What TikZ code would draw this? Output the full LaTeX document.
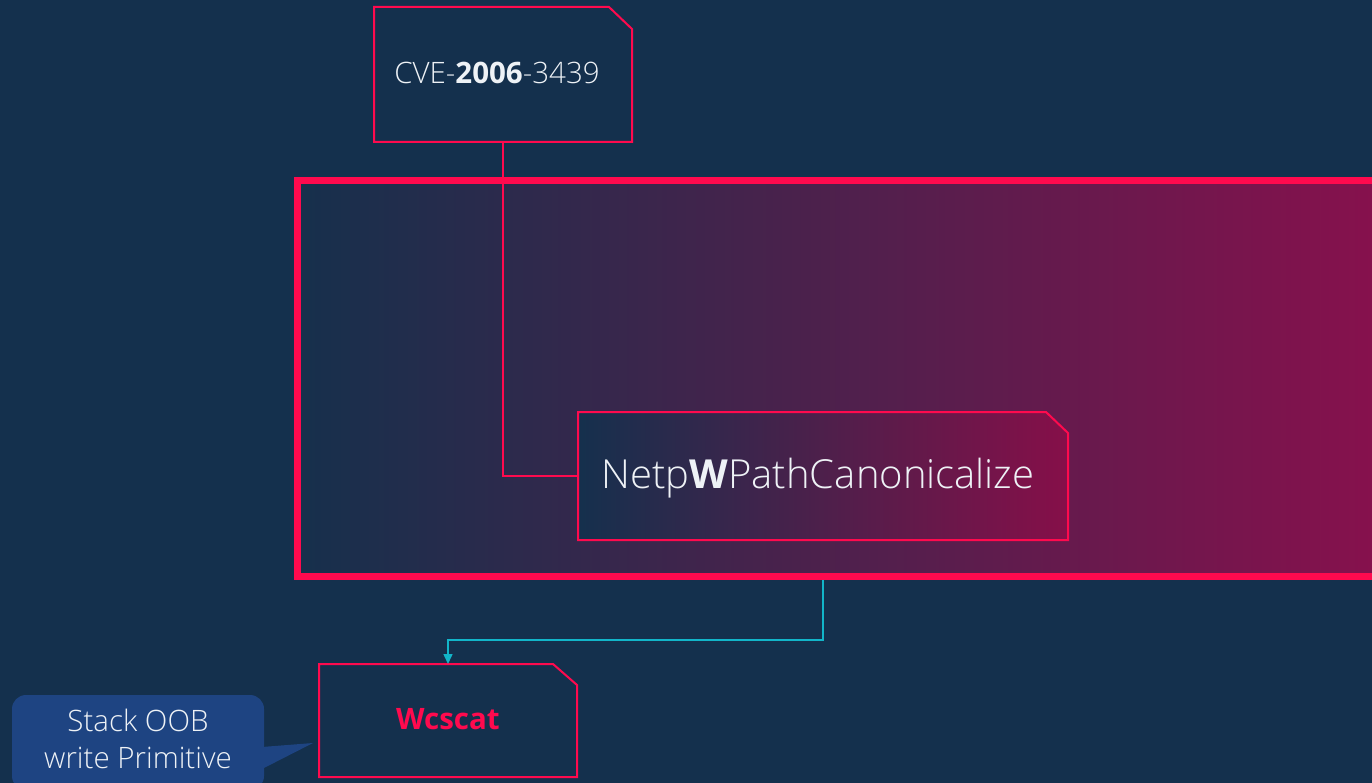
\documentclass[tikz,border=0pt]{standalone}
\usepackage{fontspec}
\setmainfont{Open Sans Light}[BoldFont={Open Sans Bold}]
\usetikzlibrary{arrows.meta}
\definecolor{bg}{HTML}{14304D}
\definecolor{accent}{HTML}{FF0A4E}
\definecolor{cyanline}{HTML}{12B5C9}
\definecolor{calloutfill}{HTML}{1E4482}
\definecolor{gradL}{HTML}{16304C}
\definecolor{gradR}{HTML}{86114D}
\definecolor{boxL}{HTML}{15304D}
\definecolor{boxR}{HTML}{860F49}
\definecolor{txt}{HTML}{EEF2F6}
\tikzset{
  notebox/.style={draw=accent, line width=2pt, line join=miter},
  label28/.style={font=\fontsize{29.5}{37}\selectfont, text=txt, align=center, inner sep=0pt},
  wire/.style={draw=accent, line width=1.5pt},
  flow/.style={draw=cyanline, line width=1.5pt, -{Triangle[length=10pt,width=9pt]}}
}
\begin{document}
\begin{tikzpicture}[x=1pt,y=-1pt]
\fill[bg] (0,0) rectangle (1372,783);
\useasboundingbox (0,0) rectangle (1372,783);
% big frame
\shade[left color=gradL,right color=gradR] (297,181) rectangle (1372,576);
\draw[accent,line width=7pt] (297,181) rectangle (1400,576);
% CVE box
\fill[bg] (374,7) -- (609,7) -- (632,29) -- (632,142) -- (374,142) -- cycle;
\draw[notebox] (374,7) -- (609,7) -- (632,29) -- (632,142) -- (374,142) -- cycle;
\node[label28] (cve) at (497,73) {CVE-\textbf{2006}-3439};
\coordinate (cveB) at (503,142);
% Netp box
\shade[left color=boxL,right color=boxR] (578,412) -- (1046,412) -- (1068,433) -- (1068,540) -- (578,540) -- cycle;
\draw[notebox] (578,412) -- (1046,412) -- (1068,433) -- (1068,540) -- (578,540) -- cycle;
\node[label28, font=\fontsize{40}{48}\selectfont] (netp) at (818,478) {Netp\textbf{W}PathCanonicalize};
\coordinate (netpW) at (578,476);
\draw[wire] (cveB) |- (netpW);
% Wcscat box
\fill[bg] (319,664) -- (553,664) -- (577,685) -- (577,777) -- (319,777) -- cycle;
\draw[notebox] (319,664) -- (553,664) -- (577,685) -- (577,777) -- (319,777) -- cycle;
\node[label28, text=accent] (wcs) at (448,719) {\textbf{Wcscat}};
\coordinate (wcT) at (448,664);
\coordinate (bigB) at (823,579.5);
\coordinate (elb) at (823,640);
\draw[flow] (bigB) -- (elb) -| (wcT);
% callout
\fill[calloutfill, rounded corners=14pt] (12,695) rectangle (264,790);
\fill[calloutfill] (262,747) -- (313,743) -- (262,769) -- cycle;
\node[label28] (note) at (138,739) {Stack OOB\\write Primitive};
\end{tikzpicture}
\end{document}
